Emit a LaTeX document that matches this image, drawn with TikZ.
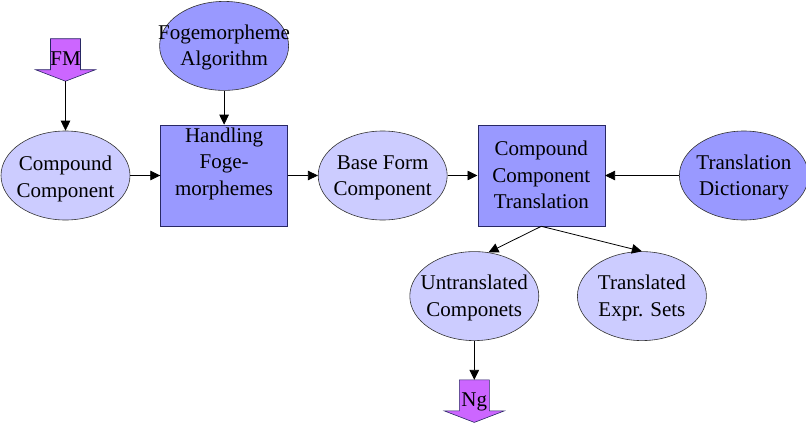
\documentclass[tikz,border=0pt]{standalone}
\usepackage{fontspec}
\setmainfont{Liberation Serif}
\usetikzlibrary{positioning,arrows.meta,shapes.geometric}
\definecolor{paleblue}{RGB}{204,204,255}
\definecolor{midblue}{RGB}{153,153,255}
\definecolor{fmviolet}{RGB}{204,102,255}
\definecolor{edgeblue}{RGB}{40,40,100}

% text of a shape, kept out of the shape size
\newcommand{\boxtext}[2][-6.7pt]{\smash{\raisebox{#1}{\makebox[0pt]{\begin{tabular}{@{}c@{}}#2\end{tabular}}}}}
% block arrow pointing down, #1 name, #2 base point, #3 text
\newcommand{\blockdown}[3]{%
  \begin{scope}[shift={#2}]
    \filldraw[fill=fmviolet,draw=edgeblue,line width=0.6pt]
      (-15,27) -- (15,27) -- (15,-4) -- (30,-4) -- (0,-15.5) -- (-30,-4) -- (-15,-4) -- cycle;
    \node[anchor=base,inner sep=0pt] (#1) at (0,0) {#3};
    \coordinate (#1top) at (0,27);
    \coordinate (#1tip) at (0,-15.5);
  \end{scope}}

\begin{document}
\begin{tikzpicture}[x=1pt,y=1pt,font=\fontsize{21}{26.5}\selectfont,
  >={Triangle[length=10pt,width=9.5pt]},node distance=30pt,
  lightell/.style={ellipse,draw=black!80,line width=0.6pt,fill=paleblue,minimum width=129pt,minimum height=89pt,inner sep=0pt},
  darkell/.style={lightell,fill=midblue},
  procbox/.style={rectangle,draw=edgeblue,line width=0.6pt,fill=midblue,minimum width=127pt,minimum height=101pt,inner sep=0pt},
  link/.style={->,line width=0.8pt}]
\useasboundingbox (0,0) rectangle (806,-423);
\node[lightell] (cc) at (65.5,-175.5) {\boxtext[-8.6pt]{Compound\\Component}};
\node[procbox] (hf) [right=of cc] {\boxtext[6.9pt]{Handling\\Foge-\\morphemes}};
\node[lightell] (bf) [right=of hf] {\boxtext{Base Form\\Component}};
\node[procbox] (cct) [right=of bf] {\boxtext{Compound\\Component\\Translation}};
\node[darkell] (td) [right=74pt of cct] {\boxtext{Translation\\Dictionary}};
\node[darkell] (fa) [above=34pt of hf] {\boxtext{Fogemorpheme\\Algorithm}};
\node[lightell] (un) [below=25pt of cct,xshift=-67pt] {\boxtext{Untranslated\\Componets}};
\node[lightell] (tr) [right=38pt of un] {\boxtext{Translated\\Expr. Sets}};

\coordinate (fmbase) at ([yshift=65pt]cc.north);
\blockdown{fm}{(fmbase)}{FM}
\coordinate (ngbase) at ([yshift=-66pt]un.south);
\blockdown{ng}{(ngbase)}{Ng}

\draw[link] (fmtip) -- (cc);
\draw[link] (fa) -- (hf);
\draw[link] (cc) -- (hf);
\draw[link] (hf) -- (bf);
\draw[link] (bf) -- (cct);
\draw[link] (td) -- (cct);
\draw[link] (cct.south) -- (un.72);
\draw[link] (cct.south) -- (tr.north);
\draw[link] (un) -- (ngtop);
\end{tikzpicture}
\end{document}
